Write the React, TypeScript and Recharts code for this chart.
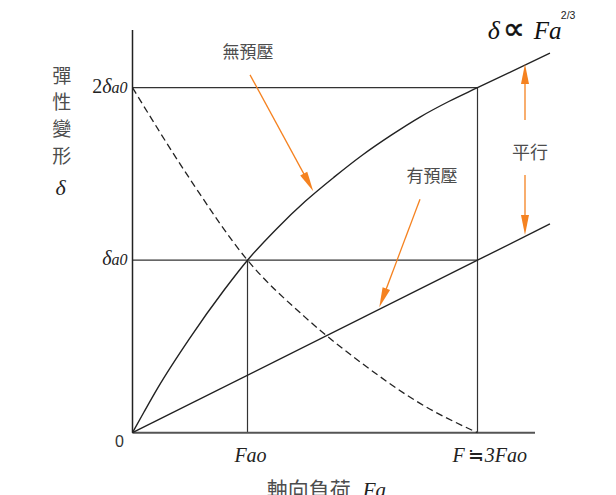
import React from 'react';
import { LineChart, Line, XAxis, YAxis, ReferenceLine, ReferenceDot } from 'recharts';

// Axial load, in units of the preload load Fao
const freeLoad = [0, 0.1, 0.22, 0.5, 0.8, 1, 1.25, 1.5, 1.75, 2, 2.25, 2.5, 2.75, 3, 3.63];
// Elastic deformation without preload, in units of δa0
const freeDisp = [0, 0.12, 0.26, 0.55, 0.83, 1, 1.18, 1.34, 1.48, 1.61, 1.725, 1.83, 1.92, 2, 2.2];

// Preloaded pair: deformation grows linearly with load
const preloadLoad = [0, 3, 3.63];
const preloadDisp = [0, 1, 1.21];

// Counter side of the preloaded pair (dashed)
const counterLoad = [0, 0.5, 1, 1.5, 2, 2.5, 3];
const counterDisp = [2, 1.47, 1, 0.67, 0.4, 0.17, 0];

const xTicks = [0, 1, 3];
const yTicks = [1, 2];
const yTickPrefix = ['', '2'];

const ORANGE = '#F58220';
const INK = '#222';
const SERIF = '"Liberation Serif", "DejaVu Serif", serif';
const SANS = '"Liberation Sans", Arial, sans-serif';
const CJK = '"Noto Sans CJK TC", "Noto Sans CJK SC", sans-serif';
const TEXT_GRAY = '#4d4d4d';

const zip = (xs: number[], ys: number[]) => xs.map((x, i) => ({ x, y: ys[i] }));

const freeData = zip(freeLoad, freeDisp);
const preloadData = zip(preloadLoad, preloadDisp);
const counterData = zip(counterLoad, counterDisp);

const Arrow = (props: any) => {
  const { x1, y1, x2, y2 } = props;
  const dx = x2 - x1;
  const dy = y2 - y1;
  const len = Math.hypot(dx, dy) || 1;
  const ux = dx / len;
  const uy = dy / len;
  const head = 20;
  const half = 4;
  const bx = x2 - ux * head;
  const by = y2 - uy * head;
  return (
    <g>
      <line x1={x1} y1={y1} x2={bx + ux * 2} y2={by + uy * 2} stroke={ORANGE} strokeWidth={1.3} />
      <polygon
        points={`${x2},${y2} ${bx - uy * half},${by + ux * half} ${bx + uy * half},${by - ux * half}`}
        fill={ORANGE}
      />
    </g>
  );
};

const at = (render: (x: number, y: number) => React.ReactNode) => ({
  content: (p: any) => {
    const vb = p.viewBox || { x: 0, y: 0, width: 0, height: 0 };
    return <g>{render(vb.x + (vb.width || 0) / 2, vb.y + (vb.height || 0) / 2)}</g>;
  },
});

const XTick = (props: any) => {
  const { x, y, payload } = props;
  const i = xTicks.indexOf(payload.value);
  if (i === 0) {
    return (
      <text x={x - 13} y={y + 14} textAnchor="middle" fontFamily={SANS} fontSize={16} fill="#333">
        0
      </text>
    );
  }
  if (i === 1) {
    return (
      <text x={x + 3} y={y + 29} textAnchor="middle" fontFamily={SERIF} fontStyle="italic" fontSize={20} fill="#222">
        Fao
      </text>
    );
  }
  return (
    <text x={x - 25} y={y + 29} textAnchor="start" fontFamily={SERIF} fontStyle="italic" fontSize={20} fill="#222">
      F
      <tspan fontFamily={CJK} fontStyle="normal" fontSize={19} dx={3}>≒</tspan>
      <tspan dx={1}>3Fao</tspan>
    </text>
  );
};

const YTick = (props: any) => {
  const { x, y, payload } = props;
  const i = yTicks.indexOf(payload.value);
  return (
    <text x={x - 5} y={y + 5} textAnchor="end" fontFamily={SERIF} fontSize={20} fill="#222">
      {yTickPrefix[i]}
      <tspan fontStyle="italic">δ</tspan>
      <tspan fontStyle="italic" fontSize={16}>a0</tspan>
    </text>
  );
};

const yLabelChars = ['彈', '性', '變', '形'];

export default function App() {
  return (
    <div style={{ position: 'absolute', left: 0, top: 0, width: 616, height: 495, background: '#fff' }}>
      <LineChart width={616} height={495} margin={{ top: 18.7, right: 46.5, bottom: 0, left: 32.5 }}>
        <XAxis
          dataKey="x"
          type="number"
          domain={[0, 3.8]}
          ticks={xTicks}
          axisLine={false}
          tickLine={false}
          tickSize={0}
          tickMargin={0}
          height={62.3}
          tick={<XTick />}
          interval={0}
        />
        <YAxis
          type="number"
          domain={[0, 2.4]}
          ticks={yTicks}
          axisLine={false}
          tickLine={false}
          tickSize={0}
          tickMargin={0}
          width={100}
          tick={<YTick />}
          interval={0}
        />

        {/* guide lines */}
        <ReferenceLine segment={[{ x: 0, y: 2 }, { x: 3, y: 2 }]} stroke="#333" strokeWidth={1.2} />
        <ReferenceLine segment={[{ x: 0, y: 1 }, { x: 3, y: 1 }]} stroke="#333" strokeWidth={1.2} />
        <ReferenceLine segment={[{ x: 1, y: 0 }, { x: 1, y: 1 }]} stroke="#333" strokeWidth={1.2} />
        <ReferenceLine segment={[{ x: 3, y: 0 }, { x: 3, y: 2 }]} stroke="#333" strokeWidth={1.2} />

        {/* axes */}
        <ReferenceLine segment={[{ x: 0, y: 0 }, { x: 3.5, y: 0 }]} stroke="#555" strokeWidth={2} />
        <ReferenceLine segment={[{ x: 0, y: 0 }, { x: 0, y: 2.335 }]} stroke={INK} strokeWidth={1.5} />

        <Line data={freeData} dataKey="y" type="monotone" stroke={INK} strokeWidth={1.4} dot={false} isAnimationActive={false} />
        <Line data={preloadData} dataKey="y" type="linear" stroke={INK} strokeWidth={1.4} dot={false} isAnimationActive={false} />
        <Line data={counterData} dataKey="y" type="monotone" stroke={INK} strokeWidth={1.3} strokeDasharray="7 4" dot={false} isAnimationActive={false} />

        {/* callout arrows */}
        <ReferenceLine segment={[{ x: 1.022, y: 2.074 }, { x: 1.572, y: 1.4 }]} shape={Arrow} />
        <ReferenceLine segment={[{ x: 2.5, y: 1.353 }, { x: 2.146, y: 0.727 }]} shape={Arrow} />
        <ReferenceLine segment={[{ x: 3.413, y: 1.813 }, { x: 3.413, y: 2.137 }]} shape={Arrow} />
        <ReferenceLine segment={[{ x: 3.413, y: 1.494 }, { x: 3.413, y: 1.146 }]} shape={Arrow} />

        {/* callout texts */}
        <ReferenceDot x={1.004} y={2.207} r={0} fill="none" stroke="none" ifOverflow="visible"
          label={at((x, y) => (
            <text x={x} y={y + 6} textAnchor="middle" fontFamily={CJK} fontSize={17} fill={TEXT_GRAY}>無預壓</text>
          ))}
        />
        <ReferenceDot x={2.604} y={1.488} r={0} fill="none" stroke="none" ifOverflow="visible"
          label={at((x, y) => (
            <text x={x} y={y + 6} textAnchor="middle" fontFamily={CJK} fontSize={17} fill={TEXT_GRAY}>有預壓</text>
          ))}
        />
        <ReferenceDot x={3.457} y={1.621} r={0} fill="none" stroke="none" ifOverflow="visible"
          label={at((x, y) => (
            <text x={x} y={y + 6} textAnchor="middle" fontFamily={CJK} fontSize={18} fill={TEXT_GRAY}>平行</text>
          ))}
        />

        {/* law of deformation */}
        <ReferenceDot x={3.09} y={2.282} r={0} fill="none" stroke="none" ifOverflow="visible"
          label={at((x, y) => (
            <g>
              <text x={x} y={y} fontFamily={SERIF} fontStyle="italic" fontSize={26} fill="#111">δ</text>
              <text x={x + 15} y={y} fontFamily={`"DejaVu Sans", ${SERIF}`} fontSize={31} fill="#111" stroke="#111" strokeWidth={0.5}>∝</text>
              <text x={x + 46} y={y} fontFamily={SERIF} fontStyle="italic" fontSize={25} fill="#111">Fa</text>
              <text x={x + 73} y={y - 20} fontFamily={SANS} fontSize={10.5} fill="#222">2/3</text>
            </g>
          ))}
        />

        {/* vertical axis title */}
        <ReferenceDot x={-0.616} y={2.069} r={0} fill="none" stroke="none" ifOverflow="visible"
          label={at((x, y) => (
            <g>
              {yLabelChars.map((c, i) => (
                <text key={c} x={x} y={y + 7 + i * 26.7} textAnchor="middle" fontFamily={CJK} fontSize={19} fill={TEXT_GRAY}>{c}</text>
              ))}
              <text x={x - 1} y={y + 119} textAnchor="middle" fontFamily={SERIF} fontStyle="italic" fontSize={22} fill="#222">δ</text>
            </g>
          ))}
        />

        {/* horizontal axis title */}
        <ReferenceDot x={1.167} y={-0.373} r={0} fill="none" stroke="none" ifOverflow="visible"
          label={at((x, y) => (
            <text x={x} y={y} fontFamily={CJK} fontSize={21} fill={TEXT_GRAY}>
              軸向負荷
              <tspan fontFamily={SERIF} fontStyle="italic" fill="#222" dx={12}>Fa</tspan>
            </text>
          ))}
        />
      </LineChart>
    </div>
  );
}
